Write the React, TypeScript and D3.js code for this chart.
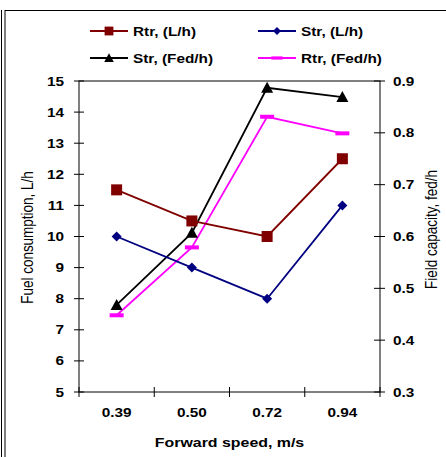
import React from "react";
import * as d3 from "d3";

const categories = ["0.39", "0.50", "0.72", "0.94"];
const rtrLh = [11.5, 10.5, 10, 12.5];
const strLh = [10, 9, 8, 11];
const strFed = [0.468, 0.607, 0.887, 0.869];
const rtrFed = [0.448, 0.579, 0.831, 0.799];
const leftTicks = [5, 6, 7, 8, 9, 10, 11, 12, 13, 14, 15];
const rightTicks = [0.3, 0.4, 0.5, 0.6, 0.7, 0.8, 0.9];

const W = 446, H = 457;
const L = 79, R = 380, T = 81, B = 392;
const FONT = "'Liberation Sans', Arial, sans-serif";
const SX = 1.18;

const MAROON = "#800000";
const NAVY = "#000080";
const MAG = "#FF00FF";

function Marker({ type, x, y }: { type: string; x: number; y: number }) {
  if (type === "square") return <rect x={x - 5.5} y={y - 5.5} width={11} height={11} fill={MAROON} />;
  if (type === "diamond") return <path d={`M${x},${y - 5}L${x + 5},${y}L${x},${y + 5}L${x - 5},${y}Z`} fill={NAVY} />;
  if (type === "triangle") return <path d={`M${x},${y - 6}L${x + 6},${y + 5}L${x - 6},${y + 5}Z`} fill="#000" />;
  return <rect x={x - 7} y={y - 2} width={14} height={4} fill={MAG} />;
}

function T2({ x, y, anchor = "start", bold = true, size = 13, children }: any) {
  return (
    <text
      transform={`translate(${x},${y}) scale(${SX},1)`}
      dy="0.35em"
      textAnchor={anchor}
      fontSize={size}
      fontWeight={bold ? "bold" : "normal"}
    >
      {children}
    </text>
  );
}

export default function App() {
  const x = d3.scaleBand().domain(categories).range([L, R]);
  const cx = (c: string) => (x(c) as number) + x.bandwidth() / 2;
  const yl = d3.scaleLinear().domain([5, 15]).range([B, T]);
  const yr = d3.scaleLinear().domain([0.3, 0.9]).range([B, T]);

  const series = [
    { name: "Rtr, (L/h)", vals: rtrLh, y: yl, color: MAROON, m: "square" },
    { name: "Str, (L/h)", vals: strLh, y: yl, color: NAVY, m: "diamond" },
    { name: "Str, (Fed/h)", vals: strFed, y: yr, color: "#000", m: "triangle" },
    { name: "Rtr, (Fed/h)", vals: rtrFed, y: yr, color: MAG, m: "dash" },
  ];
  const drawOrder = [3, 2, 1, 0];
  const legendPos = [
    { x: 90, y: 31 },
    { x: 258, y: 31 },
    { x: 90, y: 58 },
    { x: 258, y: 58 },
  ];
  const line = (ys: any) =>
    d3.line<number>().x((_, i) => cx(categories[i])).y((v) => ys(v));

  const edges = [...categories.map((c) => x(c) as number), R];

  return (
    <svg width={W} height={H} style={{ position: "absolute", left: 0, top: 0 }} fontFamily={FONT}>
      <rect x={0} y={0} width={W} height={H} fill="#fff" />
      {/* outer frame */}
      <line x1={5} x2={W} y1={10.5} y2={10.5} stroke="#000" strokeWidth={1} />
      <line x1={1.5} x2={1.5} y1={10} y2={H} stroke="#000" strokeWidth={1} />
      <line x1={5} x2={5} y1={10} y2={H} stroke="#000" strokeWidth={1} />

      {/* plot box */}
      <rect x={L} y={T} width={R - L} height={B - T} fill="none" stroke="#000" strokeWidth={1} />

      {/* left ticks */}
      {leftTicks.map((t) => (
        <g key={"l" + t}>
          <line x1={L - 5} x2={L + 5} y1={yl(t)} y2={yl(t)} stroke="#000" />
          <T2 x={64} y={yl(t)} anchor="end">{t}</T2>
        </g>
      ))}
      {/* right ticks */}
      {rightTicks.map((t) => (
        <g key={"r" + t}>
          <line x1={R - 6} x2={R + 5} y1={yr(t)} y2={yr(t)} stroke="#000" />
          <T2 x={393} y={yr(t)} anchor="start">{t.toFixed(1)}</T2>
        </g>
      ))}
      {/* x ticks */}
      {edges.map((e, i) => (
        <line key={"x" + i} x1={e} x2={e} y1={B - 5} y2={B + 5} stroke="#000" />
      ))}
      {categories.map((c) => (
        <T2 key={c} x={cx(c)} y={412} anchor="middle">{c}</T2>
      ))}

      <T2 x={(L + R) / 2} y={442} anchor="middle" size={13.5}>Forward speed, m/s</T2>
      <text transform={`translate(27,${(T + B) / 2 + 1}) rotate(-90) scale(1,${SX})`} dy="0.35em" textAnchor="middle" fontSize={13.5}>Fuel consumption,  L/h</text>
      <text transform={`translate(431,${(T + B) / 2 - 7}) rotate(-90) scale(1,${SX})`} dy="0.35em" textAnchor="middle" fontSize={13.5}>Field capacity, fed/h</text>

      {/* series */}
      {drawOrder.map((si) => {
        const s = series[si];
        return (
          <g key={s.name}>
            <path d={line(s.y)(s.vals) as string} fill="none" stroke={s.color} strokeWidth={1.8} />
            {s.vals.map((v, i) => (
              <Marker key={i} type={s.m} x={cx(categories[i])} y={s.y(v)} />
            ))}
          </g>
        );
      })}

      {/* legend */}
      {series.map((s, i) => {
        const p = legendPos[i];
        return (
          <g key={"lg" + i}>
            <line x1={p.x} x2={p.x + 38} y1={p.y} y2={p.y} stroke={s.color} strokeWidth={1.8} />
            <g transform={`translate(${p.x + 19},${p.y}) scale(0.8) translate(${-(p.x + 19)},${-p.y})`}>
              <Marker type={s.m} x={p.x + 19} y={p.y} />
            </g>
            <T2 x={p.x + 43} y={p.y}>{s.name}</T2>
          </g>
        );
      })}
    </svg>
  );
}
